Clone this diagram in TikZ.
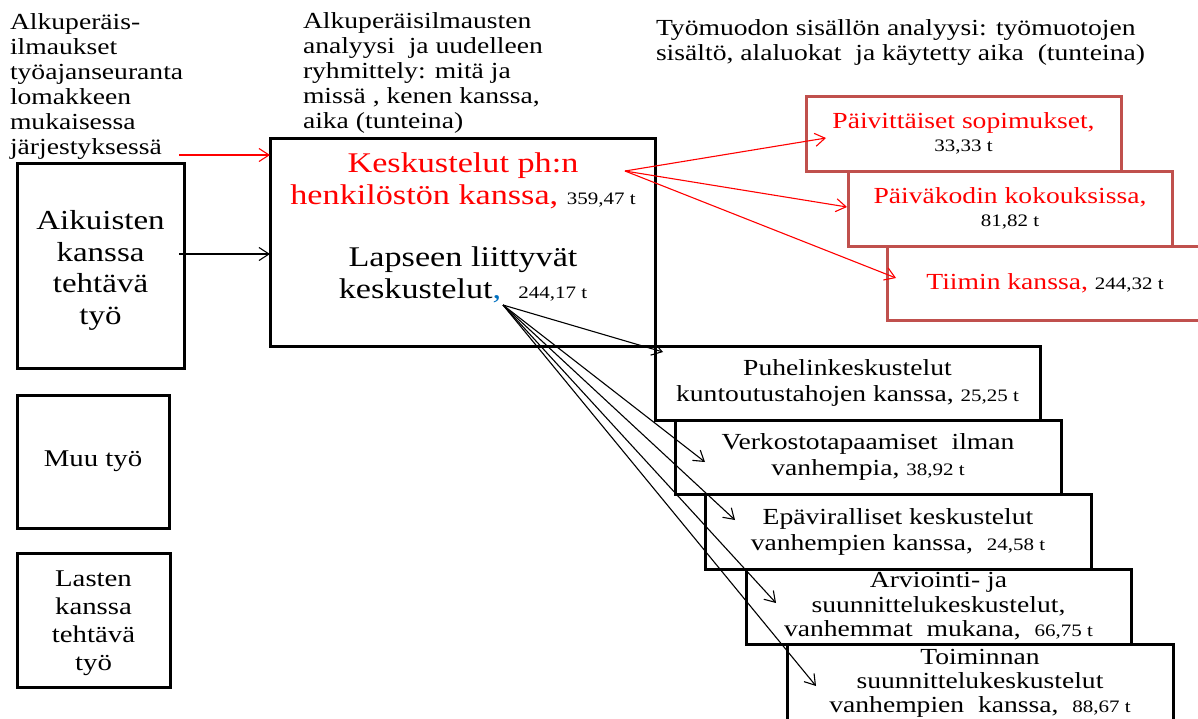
\documentclass[tikz,border=0pt]{standalone}
\usepackage{fontspec}
\setmainfont{Liberation Serif}[FakeStretch=1.2]
\usetikzlibrary{arrows.meta,calc}

\definecolor{txtred}{HTML}{FF0000}
\definecolor{boxred}{HTML}{C0504D}
\definecolor{commablue}{HTML}{0070C0}

% font size / baseline skip shortcut and the smaller size used for hours
\newcommand{\fs}[2]{\fontsize{#1}{#2}\selectfont}
\newcommand{\hrs}[1]{{\fontsize{17.5}{20}\selectfont #1}}

\begin{document}
\begin{tikzpicture}[x=1pt,y=-1pt,
  every node/.style={inner sep=0pt, outer sep=0pt},
  frame/.style={draw=black, line width=3pt, align=center, font=\fs{23}{26}},
  redframe/.style={draw=boxred, line width=3pt, align=center, text=txtred, font=\fs{23}{23}},
  toptext/.style={align=left, anchor=north west, font=\fs{23}{25}},
  conn/.style={line width=1.1pt, -{Straight Barb[length=10pt,width=13pt]}},
]
\useasboundingbox (0,0) rectangle (1198,718);
\clip (0,0) rectangle (1198,718);

% column headings
\node[toptext] (lbl1) at (10,14) {Alkuperäis-\\ilmaukset\\työajanseuranta\\lomakkeen\\mukaisessa\\järjestyksessä};
\node[toptext] (lbl2) at (303,13) {Alkuperäisilmausten\\analyysi\ \ ja uudelleen\\ryhmittely: mitä ja\\missä , kenen kanssa,\\aika (tunteina)};
\node[toptext] (lbl3) at (656,20) {Työmuodon sisällön analyysi: työmuotojen\\sisältö, alaluokat\ \ ja käytetty aika\ \ (tunteina)};

% original categories
\node[frame, minimum width=167pt, minimum height=205pt] (aik) at (100.5,265.5) {};
\node[font=\fs{27.5}{31.5}, align=center] (aiktxt) at ($(aik.center)+(0,5)$) {Aikuisten\\kanssa\\tehtävä\\työ};
\node[frame, minimum width=152pt, minimum height=133pt, font=\fs{24}{28}] (muu) at (93,461.5) {Muu työ};
\node[frame, minimum width=153pt, minimum height=134pt] (lasten) at (93.5,620) {};
\node[font=\fs{24}{28}, align=center] (lastentxt) at ($(lasten.center)+(0,3)$) {Lasten\\kanssa\\tehtävä\\työ};

% regrouped conversations
\node[frame, minimum width=385pt, minimum height=208pt] (kesk) at (462.5,242) {};
\node[font=\fs{28.5}{32}, text=txtred, align=center] (ph) at (463,181) {Keskustelut ph:n\\henkilöstön kanssa, \hrs{\color{black}359,47 t}};
\node[font=\fs{28.5}{32}, align=center] (lap) at (463,275) {Lapseen liittyvät\\keskustelut{\color{commablue},}\ \ \hrs{244,17 t}};

% staff subcategories
\node[redframe, minimum width=315pt, minimum height=75pt] (r1) at (963.5,133.5) {Päivittäiset\ sopimukset,\\\hrs{\color{black}33,33 t}};
\node[redframe, minimum width=324pt, minimum height=75pt] (r2) at (1010,208.5) {Päiväkodin kokouksissa,\\\hrs{\color{black}81,82 t}};
\node[redframe, minimum width=316pt, minimum height=74pt] (r3) at (1045,283) {Tiimin kanssa, \hrs{\color{black}244,32 t}};

% child-related subcategories
\node[frame, minimum width=385pt, minimum height=74pt] (p1) at (847.5,383) {Puhelinkeskustelut\\kuntoutustahojen kanssa, \hrs{25,25 t}};
\node[frame, minimum width=386pt, minimum height=74pt] (p2) at (868,457) {Verkostotapaamiset\ \ ilman\\vanhempia, \hrs{38,92 t}};
\node[frame, minimum width=386pt, minimum height=75pt] (p3) at (898,531.5) {Epäviralliset keskustelut\\vanhempien kanssa,\ \ \hrs{24,58 t}};
\node[frame, minimum width=385pt, minimum height=75pt, font=\fs{23}{24.5}] (p4) at (938.5,606.5) {Arviointi- ja\\suunnittelukeskustelut,\\vanhemmat\ \ mukana,\ \ \hrs{66,75 t}};
\node[frame, minimum width=386pt, minimum height=78pt, font=\fs{23}{24}] (p5) at (980,683) {Toiminnan\\suunnittelukeskustelut\\vanhempien\ \ kanssa,\ \ \hrs{88,67 t}};

% connector end points
\coordinate (inred) at (179,155);
\coordinate (inblk) at (179,254);
\coordinate (redsrc) at (625,171);
\coordinate (blksrc) at (503,305);
\coordinate (tr1) at (826,138);
\coordinate (tr2) at (847,207);
\coordinate (tr3) at (896,278);
\coordinate (tp1) at (663,352);
\coordinate (tp2) at (705,462);
\coordinate (tp3) at (735,520);
\coordinate (tp4) at (776,603);
\coordinate (tp5) at (816,686);

% connectors
\draw[conn, txtred] (inred) -- (kesk.west |- inred);
\draw[conn] (inblk) -- (kesk.west |- inblk);
\draw[conn, txtred] (redsrc) -- (tr1);
\draw[conn, txtred] (redsrc) -- (tr2);
\draw[conn, txtred] (redsrc) -- (tr3);
\draw[conn] (blksrc) -- (tp1);
\draw[conn] (blksrc) -- (tp2);
\draw[conn] (blksrc) -- (tp3);
\draw[conn] (blksrc) -- (tp4);
\draw[conn] (blksrc) -- (tp5);
\end{tikzpicture}
\end{document}
